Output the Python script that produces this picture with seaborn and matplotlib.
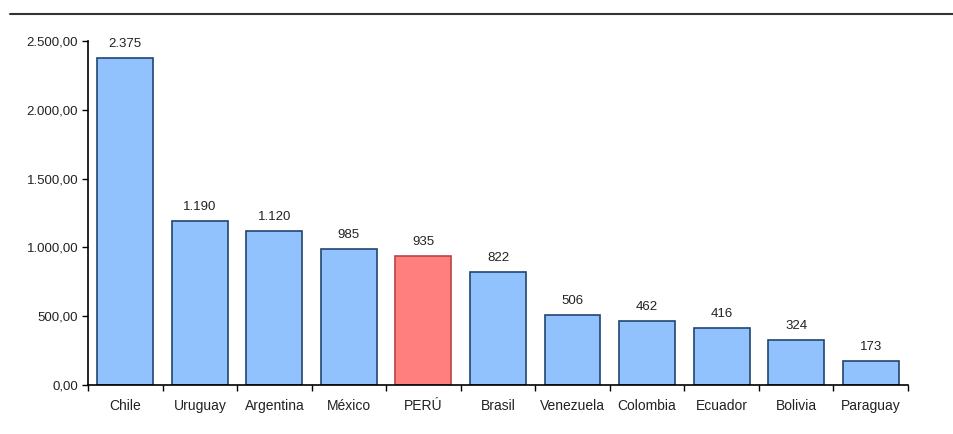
import matplotlib
matplotlib.use("Agg")
import matplotlib.pyplot as plt
import seaborn as sns
import pandas as pd
from matplotlib.lines import Line2D
from matplotlib.ticker import FuncFormatter, FixedLocator

countries = ["Chile", "Uruguay", "Argentina", "México", "PERÚ", "Brasil",
             "Venezuela", "Colombia", "Ecuador", "Bolivia", "Paraguay"]
values = [2375, 1190, 1120, 985, 935, 822, 506, 462, 416, 324, 173]
highlight = "PERÚ"

sns.set_theme(style="white")
plt.rcParams["font.family"] = ["Liberation Sans", "DejaVu Sans"]

df = pd.DataFrame({"pais": countries, "valor": values})
df["grupo"] = ["dest" if c == highlight else "resto" for c in countries]

fig = plt.figure(figsize=(9.54, 4.34), dpi=100)
ax = fig.add_axes([88 / 954, 49 / 434, 820 / 954, 344 / 434])

sns.barplot(data=df, x="pais", y="valor", hue="grupo",
            palette={"resto": "#92C2FE", "dest": "#FF7E7E"},
            dodge=False, width=0.75, legend=False, ax=ax, saturation=1)

# bars sorted left to right so they line up with the country order
bars = sorted([p for p in ax.patches if p.get_height() > 0],
              key=lambda p: p.get_x())

edge = {"resto": "#23446E", "dest": "#B84545"}
for patch, g in zip(bars, df["grupo"]):
    patch.set_edgecolor(edge[g])
    patch.set_linewidth(1.2)

def miles(v):
    return f"{int(v):,}".replace(",", ".")

for patch, v in zip(bars, values):
    ax.text(patch.get_x() + patch.get_width() / 2, v + 60, miles(v),
            ha="center", va="bottom", fontsize=9.5, color="#222222")

ax.set_ylim(0, 2500)
ax.set_xlim(-0.5, len(countries) - 0.5)
ax.yaxis.set_major_locator(FixedLocator([0, 500, 1000, 1500, 2000, 2500]))
ax.yaxis.set_major_formatter(FuncFormatter(
    lambda v, p: f"{int(v):,}".replace(",", ".") + ",00"))

# category boundaries carry the ticks, centres carry the names
ax.set_xticks([i - 0.5 for i in range(len(countries) + 1)])
ax.set_xticklabels([])
ax.set_xticks(range(len(countries)), minor=True)
ax.set_xticklabels(countries, minor=True)
ax.tick_params(axis="x", which="minor", length=0, pad=10, labelsize=10,
               labelcolor="#222222")
ax.tick_params(axis="x", which="major", direction="out", length=4,
               width=1, color="black", bottom=True)
ax.tick_params(axis="y", direction="out", length=4, width=1, color="black",
               left=True, labelsize=9.5, labelcolor="#222222", pad=3)

ax.set_xlabel("")
ax.set_ylabel("")
for side in ["top", "right"]:
    ax.spines[side].set_visible(False)
for side in ["left", "bottom"]:
    ax.spines[side].set_color("black")
    ax.spines[side].set_linewidth(1.2)

fig.add_artist(Line2D([10 / 954, 1.0], [1 - 14 / 434, 1 - 14 / 434],
                      color="#333333", linewidth=1.5,
                      transform=fig.transFigure))

fig.savefig("out.png", dpi=100, facecolor="white")
